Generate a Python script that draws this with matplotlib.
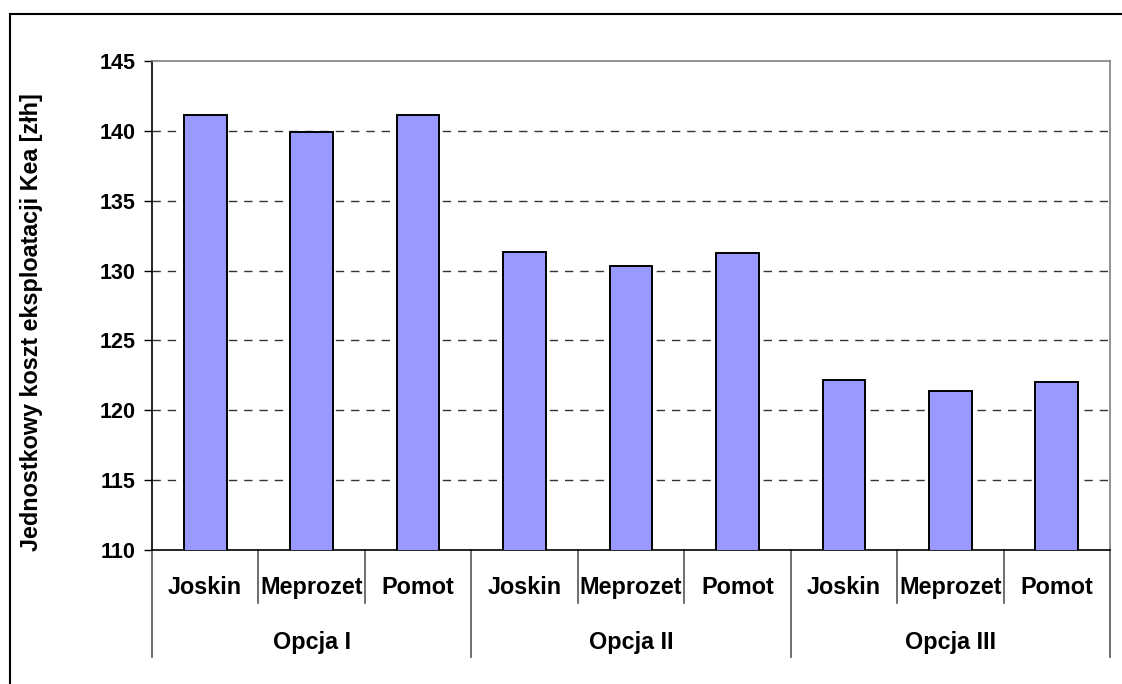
import matplotlib.pyplot as plt
from matplotlib.lines import Line2D

plt.rcParams['font.family'] = ['Liberation Sans', 'DejaVu Sans']

# data
groups = ["Opcja I", "Opcja II", "Opcja III"]
makers = ["Joskin", "Meprozet", "Pomot"]
costs = [141.15, 139.9, 141.15,
         131.35, 130.35, 131.25,
         122.15, 121.35, 122.05]
y_ticks = [110, 115, 120, 125, 130, 135, 140, 145]

W, H = 1122, 684
fig = plt.figure(figsize=(W / 100, H / 100), dpi=100)
ax = fig.add_axes([152 / W, 1 - 550 / H, (1110 - 152) / W, (550 - 61) / H])

labels = [m for g in groups for m in makers]
xs = list(range(len(labels)))
ax.bar(xs, costs, width=0.4, color="#9999FF", edgecolor="black", linewidth=1.4, zorder=3)

ax.set_xlim(-0.5, len(labels) - 0.5)
ax.set_ylim(110, 145)
ax.set_yticks(y_ticks)
ax.set_yticklabels([str(v) for v in y_ticks], fontsize=15.5, fontweight="bold")
ax.tick_params(axis="y", direction="out", length=6, width=1, pad=6)
ax.set_xticks([])

for v in y_ticks[1:-1]:
    ax.axhline(v, color="#333333", linestyle=(0, (6, 5)), linewidth=1, zorder=1)

ax.spines["top"].set_color("#808080")
ax.spines["right"].set_color("#808080")
ax.spines["left"].set_color("black")
ax.spines["bottom"].set_color("black")
for s in ax.spines.values():
    s.set_linewidth(1.2)

ax.set_ylabel("Jednostkowy koszt eksploatacji Kea [złh]", fontsize=16.8,
              fontweight="bold")
ax.yaxis.set_label_coords(-0.114, 0.466)

# two-level category axis
tr = ax.get_xaxis_transform()
for i in range(len(labels) + 1):
    x = i - 0.5
    low = -0.219 if i % 3 == 0 else -0.108
    ax.add_line(Line2D([x, x], [0, low], transform=tr, color="#555555",
                       linewidth=1.2, clip_on=False))
for i, lab in enumerate(labels):
    ax.text(i, -0.076, lab, transform=tr, ha="center", va="center",
            fontsize=16.8, fontweight="bold")
for j, g in enumerate(groups):
    ax.text(3 * j + 1, -0.19, g, transform=tr, ha="center", va="center",
            fontsize=16.8, fontweight="bold")

# outer chart frame (only top and left edges fall inside the picture)
fig.add_artist(Line2D([10 / W, 1], [1 - 14 / H, 1 - 14 / H], color="black", linewidth=1.5))
fig.add_artist(Line2D([10 / W, 10 / W], [0, 1 - 14 / H], color="black", linewidth=1.5))

fig.savefig("out.png", dpi=100)
